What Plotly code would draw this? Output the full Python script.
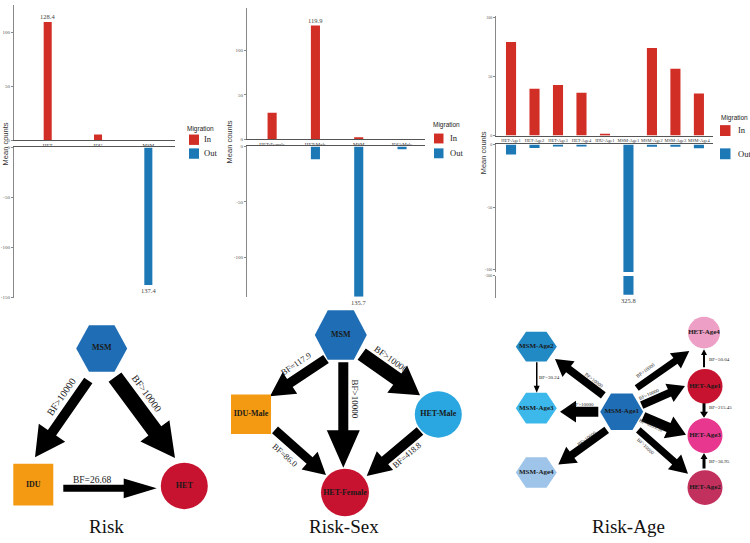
import math
import plotly.graph_objects as go

W, H = 750, 543
RED = "#d12e26"
BLUE = "#1c79b6"
SERIF = "Liberation Serif, Times New Roman, serif"
SANS = "Liberation Sans, Arial, sans-serif"

# ---- bar data ----
risk_cats = ["HET", "IDU", "MSM"]
risk_in = [110, 5.5, 0]
risk_out = [0, 0, 137.4]
risk_in_lbl = ["128.4", "", ""]
risk_out_lbl = ["", "", "137.4"]

sex_cats = ["HET-Female", "HET-Male", "MSM", "IDU-Male"]
sex_in = [30, 128, 2.5, 0]
sex_out = [0, 11.5, 135.7, 2.5]
sex_in_lbl = ["", "119.9", "", ""]
sex_out_lbl = ["", "", "135.7", ""]

age_cats = ["HET-Age1", "HET-Age2", "HET-Age3", "HET-Age4", "IDU-Age1",
            "MSM-Age1", "MSM-Age2", "MSM-Age3", "MSM-Age4"]
age_in = [79.4, 39.8, 43, 36.4, 1.5, 0, 74.3, 56.8, 35.8]
age_out = [8.1, 2.9, 1.0, 1.2, 0, 325.8, 1.8, 1.8, 3.0]
age_out_lbl = ["", "", "", "", "", "325.8", "", "", ""]

legend_names = ["In", "Out"]
legend_colors = [RED, BLUE]

# ---- network data (layout in pixel space of the figure) ----
node_names = ["MSM", "IDU", "HET",
              "MSM", "IDU-Male", "HET-Male", "HET-Female",
              "MSM-Age1", "MSM-Age2", "MSM-Age3", "MSM-Age4",
              "HET-Age4", "HET-Age1", "HET-Age3", "HET-Age2"]
node_x = [101.7, 33.3, 184.3,
          340.8, 251, 438.3, 345,
          621.7, 536.3, 536.3, 536.3,
          704, 705, 705, 705]
node_y = [349.3, 487, 488.3,
          335.8, 415.8, 416, 495,
          413.3, 347.5, 409.7, 474.7,
          333.3, 387.5, 437.5, 490]
node_shape = ["hex", "rect", "circle",
              "hex", "rect", "circle", "circle",
              "hex", "hex", "hex", "hex",
              "circle", "circle", "circle", "circle"]
node_w = [51, 40, 47, 52, 40, 47, 48, 43, 41, 41, 41, 32, 35, 35, 35]
node_h = [47, 42, 47, 50, 40, 47, 48, 37, 30, 31, 31, 32, 35, 35, 35]
node_color = ["#1f6eb5", "#f39a12", "#c7132f",
              "#1f6eb5", "#f39a12", "#2aa6e0", "#c7132f",
              "#1f6eb5", "#2189c4", "#3cb8ea", "#9ec5e9",
              "#ee9fc5", "#c7132f", "#e7378f", "#c2305e"]
node_font = [8, 8, 8, 8, 8, 8, 8, 7, 7, 7, 7, 7, 7, 7, 7]

# arrows: start, end, shaft width, head width, head length
edge_x0 = [88.3, 115, 63.3,
           326, 343.3, 361.7, 275, 420,
           603.3, 598.3, 606.7, 536.7, 636.7, 641.7, 643.3, 638.3, 704, 704, 704]
edge_y0 = [381.7, 378.3, 490.7,
           360, 363.3, 355, 431.7, 432.7,
           396.7, 413.3, 431.7, 363.3, 389.3, 406.7, 418.3, 431.7, 368.3, 404.3, 470.7]
edge_x1 = [35, 175, 156.7,
           270, 343.3, 420, 326, 366.7,
           555, 560, 558.3, 536.7, 689.3, 685, 686, 688, 704, 704, 704]
edge_y1 = [459.3, 460, 490.7,
           397.7, 470, 396.7, 477.3, 478.3,
           360, 413.3, 466.7, 394, 352, 387.3, 436.7, 476, 350, 419.3, 455]
edge_w = [10, 16, 7, 10, 10, 14, 9, 10, 8, 10, 8, 1.5, 7, 8, 10, 7, 2, 3, 3]
edge_hw = [32, 36, 20, 26, 33, 34, 24, 25, 20, 22, 20, 6, 19, 20, 24, 20, 6, 8, 7]
edge_hl = [30, 34, 33, 24, 38, 28, 22, 24, 17, 16, 17, 7, 17, 17, 19, 18, 6, 6, 6]

edge_text = ["BF>10000", "BF>10000", "BF=26.68",
             "BF=117.9", "BF>10000", "BF>10000", "BF=86.0", "BF=418.8",
             "BF>10000", "BF>10000", "BF>10000", "BF=30.24", "BF>10000",
             "BF>10000", "BF=6359.38", "BF>10000", "BF=50.04", "BF=215.45", "BF=36.95"]
edge_tx = [61.7, 146.7, 92.7,
           295.5, 355, 391, 285, 407,
           594, 583.3, 587.3, 549.3, 645.7, 648.7, 651, 645.7, 719, 720, 719]
edge_ty = [398.3, 395, 482.7,
           365, 400, 359.5, 457, 457.5,
           381.5, 406.2, 440.3, 379, 372, 395.5, 427.5, 448, 360.7, 409.3, 463.3]
edge_angle = [-55.5, 54, 0,
              -34, 90, 36, 42, -40.5,
              37, 0, -36, 0, -36, -24, 24, 43, 0, 0, 0]
edge_font = [10, 10, 9.5, 8.5, 9, 9, 8.5, 8.5,
             5, 5, 5, 5, 5, 5, 5, 5, 5, 5, 5]

panel_titles = ["Risk", "Risk-Sex", "Risk-Age"]
title_x = [106, 344, 628]


def xdom(a, b):
    return [a / W, b / W]


def ydom(top, bot):
    return [1 - bot / H, 1 - top / H]


def cat_axis(dom, rng, anchor, cats, labels=True, side="bottom", size=5):
    return dict(domain=dom, range=rng, anchor=anchor, type="category",
                categoryorder="array", categoryarray=cats, tickangle=0,
                showline=True, linecolor="#555", linewidth=1, ticks="",
                showgrid=False, zeroline=False, showticklabels=labels, side=side,
                tickfont=dict(family=SERIF, size=size, color="#333"))


def val_axis(dom, rng, anchor, vals, size=5):
    return dict(domain=dom, range=rng, anchor=anchor, showline=True,
                linecolor="#888", linewidth=1, ticks="outside", ticklen=2,
                tickcolor="#888", tickvals=vals, ticktext=[str(v) for v in vals],
                showgrid=False, zeroline=False,
                tickfont=dict(family=SERIF, size=size, color="#555"))


fig = go.Figure()


def bars(cats, vals, xa, ya, color, width):
    fig.add_bar(x=cats, y=vals, xaxis=xa, yaxis=ya, marker_color=color,
                marker_line_width=0, width=width, showlegend=False, hoverinfo="skip")


bars(risk_cats, risk_in, "x", "y", RED, 0.16)
bars(risk_cats, [-v for v in risk_out], "x2", "y2", BLUE, 0.16)
bars(sex_cats, sex_in, "x3", "y3", RED, 0.21)
bars(sex_cats, [-v for v in sex_out], "x4", "y4", BLUE, 0.21)
bars(age_cats, age_in, "x5", "y5", RED, 0.43)
bars(age_cats, [-v for v in age_out], "x6", "y6", BLUE, 0.43)
bars(age_cats, [-v for v in age_out], "x7", "y7", BLUE, 0.43)

annotations = []


def value_labels(cats, vals, lbls, xa, ya, up):
    for c, v, t in zip(cats, vals, lbls):
        if t:
            annotations.append(dict(x=c, y=v if up else -v, xref=xa, yref=ya, text=t,
                                    showarrow=False, yanchor="bottom" if up else "top",
                                    font=dict(family=SERIF, size=6.5, color="#444")))


value_labels(risk_cats, risk_in, risk_in_lbl, "x", "y", True)
value_labels(risk_cats, risk_out, risk_out_lbl, "x2", "y2", False)
value_labels(sex_cats, sex_in, sex_in_lbl, "x3", "y3", True)
value_labels(sex_cats, sex_out, sex_out_lbl, "x4", "y4", False)
value_labels(age_cats, age_out, age_out_lbl, "x7", "y7", False)

shapes = []

# ---- "Migration" keys, one per bar panel ----
# (title centre x, title y, swatch left, swatch size, swatch tops, text left)
for tx, ty, sx, sw, rows, lx in [(200.5, 127, 189, 10, [133, 147], 202),
                                 (446, 123.5, 434, 9.5, [132, 147], 448),
                                 (734, 116.5, 720, 10.5, [123.5, 147], 736)]:
    annotations.append(dict(x=tx, y=ty, xref="x8", yref="y8", text="Migration",
                            showarrow=False, font=dict(family=SANS, size=6.5, color="#222")))
    for name, col, top in zip(legend_names, legend_colors, rows):
        shapes.append(dict(type="rect", xref="x8", yref="y8", x0=sx, x1=sx + sw,
                           y0=top, y1=top + sw + 0.5, fillcolor=col, line=dict(width=0)))
        annotations.append(dict(x=lx, y=top + sw / 2, xref="x8", yref="y8", text=name,
                                xanchor="left", showarrow=False,
                                font=dict(family=SERIF, size=8.5, color="#222")))

# ---- network: shapes for arrows and nodes ----


def arrow_path(x0, y0, x1, y1, w, hw, hl):
    dx, dy = x1 - x0, y1 - y0
    L = math.hypot(dx, dy)
    ux, uy = dx / L, dy / L
    nx, ny = -uy, ux
    bx, by = x1 - ux * hl, y1 - uy * hl
    pts = [(x0 + nx * w / 2, y0 + ny * w / 2), (bx + nx * w / 2, by + ny * w / 2),
           (bx + nx * hw / 2, by + ny * hw / 2), (x1, y1),
           (bx - nx * hw / 2, by - ny * hw / 2), (bx - nx * w / 2, by - ny * w / 2),
           (x0 - nx * w / 2, y0 - ny * w / 2)]
    return "M " + " L ".join(f"{px:.1f},{py:.1f}" for px, py in pts) + " Z"


for i in range(len(edge_x0)):
    shapes.append(dict(type="path", xref="x8", yref="y8", layer="below",
                       path=arrow_path(edge_x0[i], edge_y0[i], edge_x1[i], edge_y1[i],
                                       edge_w[i], edge_hw[i], edge_hl[i]),
                       fillcolor="black", line=dict(width=0)))

for cx, cy, s, w, h, col in zip(node_x, node_y, node_shape, node_w, node_h, node_color):
    if s == "hex":
        pts = [(cx - w / 2, cy), (cx - w / 4, cy - h / 2), (cx + w / 4, cy - h / 2),
               (cx + w / 2, cy), (cx + w / 4, cy + h / 2), (cx - w / 4, cy + h / 2)]
        shapes.append(dict(type="path", xref="x8", yref="y8", layer="below",
                           path="M " + " L ".join(f"{a:.1f},{b:.1f}" for a, b in pts) + " Z",
                           fillcolor=col, line=dict(width=0)))
    else:
        shapes.append(dict(type="circle" if s == "circle" else "rect",
                           xref="x8", yref="y8", layer="below",
                           x0=cx - w / 2, x1=cx + w / 2, y0=cy - h / 2, y1=cy + h / 2,
                           fillcolor=col, line=dict(width=0)))

fig.add_scatter(x=node_x, y=node_y, xaxis="x8", yaxis="y8", mode="text",
                text=["<b>" + n + "</b>" for n in node_names],
                textfont=dict(family=SERIF, size=node_font, color="#1a1a1a"),
                showlegend=False, hoverinfo="skip")

for t, x, y, a, f in zip(edge_text, edge_tx, edge_ty, edge_angle, edge_font):
    annotations.append(dict(x=x, y=y, xref="x8", yref="y8", text=t, textangle=a,
                            showarrow=False, font=dict(family=SERIF, size=f, color="#222")))

for t, x in zip(panel_titles, title_x):
    annotations.append(dict(x=x, y=529, xref="x8", yref="y8", text=t, showarrow=False,
                            font=dict(family=SERIF, size=19, color="#111")))

for x, y in [(5, 143), (229, 141), (483, 152)]:
    annotations.append(dict(x=x, y=y, xref="x8", yref="y8", text="Mean counts",
                            textangle=-90, showarrow=False,
                            font=dict(family=SANS, size=7.5, color="#333")))

fig.update_layout(
    width=W, height=H, margin=dict(l=0, r=0, t=0, b=0),
    paper_bgcolor="white", plot_bgcolor="rgba(0,0,0,0)",
    barmode="overlay", showlegend=False,
    xaxis=cat_axis(xdom(14, 175), [-0.67, 2.53], "y", risk_cats),
    yaxis=val_axis(ydom(2, 139), [0, 125.7], "x", [0, 50, 100]),
    xaxis2=cat_axis(xdom(14, 175), [-0.67, 2.53], "y2", risk_cats, labels=False, side="top"),
    yaxis2=val_axis(ydom(146, 298), [-150, 0], "x2", [0, -50, -100, -150]),
    xaxis3=cat_axis(xdom(247, 425), [-0.58, 3.53], "y3", sex_cats),
    yaxis3=val_axis(ydom(5, 138), [0, 147.8], "x3", [0, 50, 100]),
    xaxis4=cat_axis(xdom(247, 425), [-0.58, 3.53], "y4", sex_cats, labels=False, side="top"),
    yaxis4=val_axis(ydom(145, 297), [-135.7, 0], "x4", [0, -50, -100]),
    xaxis5=cat_axis(xdom(496, 713), [-0.64, 8.6], "y5", age_cats, size=4.5),
    yaxis5=val_axis(ydom(13, 134), [0, 101.7], "x5", [0, 50, 100], size=4),
    xaxis6=cat_axis(xdom(496, 713), [-0.64, 8.6], "y6", age_cats, labels=False, side="top"),
    yaxis6=val_axis(ydom(143, 272), [-101.6, 0], "x6", [0, -50, -100], size=4),
    xaxis7=dict(domain=xdom(496, 713), range=[-0.64, 8.6], anchor="y7", type="category",
                categoryorder="array", categoryarray=age_cats, visible=False),
    yaxis7=val_axis(ydom(276, 298), [-330, -300], "x7", [-300], size=4),
    xaxis8=dict(domain=[0, 1], range=[0, W], anchor="y8", visible=False, fixedrange=True),
    yaxis8=dict(domain=[0, 1], range=[H, 0], anchor="x8", visible=False, fixedrange=True),
    shapes=shapes, annotations=annotations,
)

fig.write_html("out.html", config={"displayModeBar": False},
               post_script="document.body.style.margin='0';")
